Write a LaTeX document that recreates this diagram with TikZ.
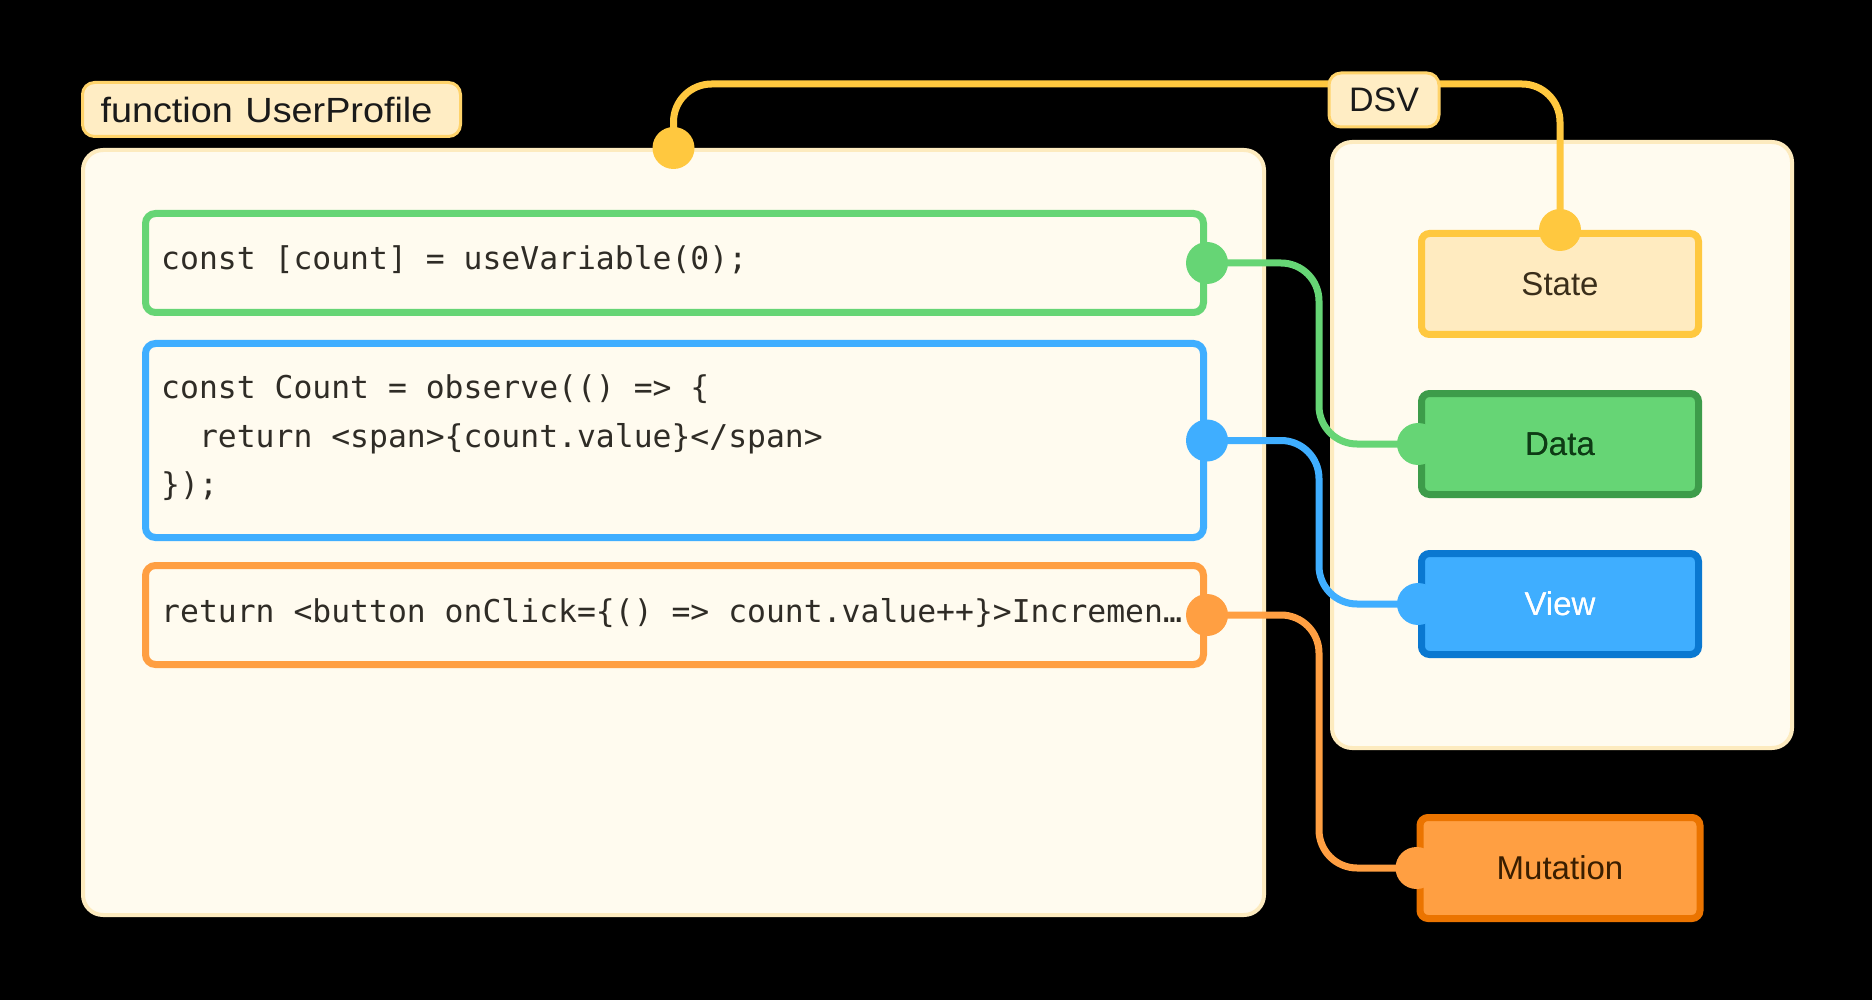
\documentclass[tikz,border=0pt]{standalone}
\usepackage{fontspec}
\setmainfont{Liberation Sans}
\newfontfamily\codefont{DejaVu Sans Mono}
\usetikzlibrary{calc}
\definecolor{panelfill}{HTML}{FFFBEF}
\definecolor{panelborder}{HTML}{FDEBBF}
\definecolor{titlefill}{HTML}{FFEDC4}
\definecolor{titleborder}{HTML}{FFD36A}
\definecolor{yel}{HTML}{FFC83F}
\definecolor{statefill}{HTML}{FFEBC0}
\definecolor{grn}{HTML}{66D575}
\definecolor{grndark}{HTML}{3D9C4A}
\definecolor{grntext}{HTML}{0E3B15}
\definecolor{blu}{HTML}{3FAEFF}
\definecolor{bludark}{HTML}{0A78D1}
\definecolor{org}{HTML}{FF9F42}
\definecolor{orgdark}{HTML}{EB7400}
\definecolor{orgtext}{HTML}{3A1E00}
\definecolor{codetext}{HTML}{2F2C26}
\definecolor{labeltext}{HTML}{1A1A1A}
\definecolor{statetext}{HTML}{3A2E1A}
\begin{document}
\begin{tikzpicture}[x=1pt,y=-1pt,
  panel/.style={draw=panelborder, fill=panelfill, line width=4pt, rounded corners=20pt, anchor=north west, inner sep=0pt},
  tag/.style={draw=titleborder, fill=titlefill, line width=3pt, rounded corners=12pt, inner sep=0pt, minimum height=54pt, text=labeltext},
  codebox/.style={line width=7pt, fill=panelfill, rounded corners=10pt, anchor=north west, inner sep=0pt, minimum width=1058pt},
  codetxt/.style={anchor=west, inner sep=0pt, align=left, text=codetext, font=\codefont\fontsize{31.4}{48.5}\selectfont},
  kind/.style={line width=7pt, rounded corners=8pt, minimum width=277pt, minimum height=101pt, inner sep=0pt, font=\fontsize{33}{40}\selectfont},
  conn/.style={line width=7pt, rounded corners=38pt},
  dot/.style={circle, inner sep=0pt, minimum size=42pt}
]
\useasboundingbox (0,0) rectangle (1872,1000);
\fill[black] (0,0) rectangle (1872,1000);

% panels
\node[panel, minimum width=1181pt, minimum height=765pt] (left) at (81,148) {};
\node[panel, minimum width=460pt, minimum height=606pt] (right) at (1330,140) {};

% title tag
\node[tag, anchor=north west, minimum width=378pt, text width=342pt, align=left, inner xsep=18pt, font=\fontsize{35}{40}\selectfont] (title) at (81,81) {\scalebox{1.08}[1]{function UserProfile}};

% code boxes
\node[codebox, draw=grn, minimum height=99pt] (gbox) at (142,210) {};
\node[codebox, draw=blu, minimum height=194pt] (bbox) at (142,340) {};
\node[codebox, draw=org, minimum height=99pt] (obox) at (142,562) {};

\node[codetxt] (gtxt) at (161,260) {const [count] = useVariable(0);};
\node[codetxt] (btxt) at (161,438) {const Count = observe(() => \{\\\phantom{xx}return <span>\{count.value\}</span>\\\});};
\node[codetxt] (otxt) at (161,613) {return <button onClick=\{() => count.value++\}>Incremen…};

% right boxes
\node[kind, draw=yel, fill=statefill, text=statetext] (state) at (1560,284) {State};
\node[kind, draw=grndark, fill=grn, text=grntext] (data) at (1560,444) {Data};
\node[kind, draw=bludark, fill=blu, text=white] (view) at (1560,604) {View};
\node[kind, draw=orgdark, fill=org, text=orgtext, minimum width=280pt] (mut) at (1560,868) {Mutation};

% connectors
\coordinate (ytop) at (0,84);
\draw[conn, yel] (left.north) -- (left.north |- ytop) -- (state.north |- ytop) -- (state.north);
\draw[conn, grn] (gbox.east) -- ++(112,0) |- (data.west);
\draw[conn, blu] (bbox.east) -- ++(112,0) |- (view.west);
\draw[conn, org] (obox.east) -- ++(112,0) |- (mut.west);

% DSV tag (over the line)
\node[tag, minimum width=110pt, font=\fontsize{34}{40}\selectfont] (dsv) at (1384,100) {DSV};

% dots
\node[dot, fill=yel] (ldot) at (left.north) {};
\node[dot, fill=yel] (sdot) at (state.north) {};
\node[dot, fill=grn] (gdot) at (gbox.east) {};
\node[dot, fill=blu] (bdot) at (bbox.east) {};
\node[dot, fill=org] (odot) at (obox.east) {};
\node[dot, fill=grn] (ddot) at (data.west) {};
\node[dot, fill=blu] (vdot) at (view.west) {};
\node[dot, fill=org] (mdot) at (mut.west) {};
% redraw labels so dots do not hide them
\node[inner sep=0pt, text=grntext, font=\fontsize{33}{40}\selectfont] (dlab) at (data.center) {Data};
\node[inner sep=0pt, text=white, font=\fontsize{33}{40}\selectfont] (vlab) at (view.center) {View};
\end{tikzpicture}
\end{document}
